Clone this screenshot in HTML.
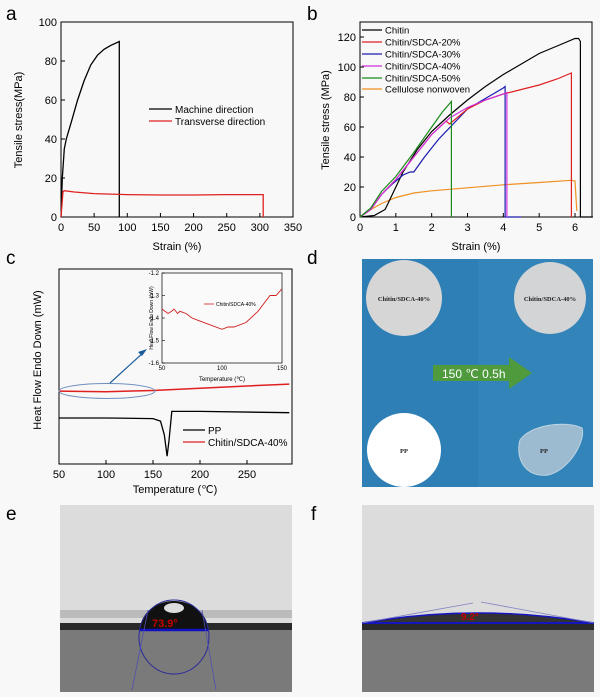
<!DOCTYPE html>
<html><head><meta charset="utf-8"><style>
body{margin:0;background:#fff;}
svg{display:block;font-family:"Liberation Sans",sans-serif;}
</style></head><body>
<svg id="fig" width="600" height="697" viewBox="0 0 600 697" xmlns="http://www.w3.org/2000/svg">
<rect width="600" height="697" fill="#f8f8f8"/>
<g id="pa"></g>
<g id="pb"></g>
<g id="pc"></g>
<g id="pd">
  <rect x="362" y="259" width="231" height="228" fill="#2e7fb5"/>
  <rect x="478" y="259" width="115" height="228" fill="#3587bd" opacity="0.6"/>
  <circle cx="404" cy="298" r="38" fill="#d6d6d6"/>
  <text x="404" y="301" font-size="6.5" font-weight="bold" font-family="Liberation Serif,serif" text-anchor="middle" fill="#222">Chitin/SDCA-40%</text>
  <circle cx="550" cy="298" r="36" fill="#d2d4d6"/>
  <text x="550" y="301" font-size="6.5" font-weight="bold" font-family="Liberation Serif,serif" text-anchor="middle" fill="#222">Chitin/SDCA-40%</text>
  <circle cx="404" cy="450" r="37" fill="#ffffff"/>
  <text x="404" y="453" font-size="6.5" font-weight="bold" font-family="Liberation Serif,serif" text-anchor="middle" fill="#222">PP</text>
  <path d="M520,440 C530,425 565,420 582,428 C586,440 570,470 548,475 C525,478 515,458 520,440Z" fill="#b8c9d6" opacity="0.8" stroke="#e0e8ee"/>
  <text x="544" y="453" font-size="6.5" font-weight="bold" font-family="Liberation Serif,serif" text-anchor="middle" fill="#222">PP</text>
  <path d="M433,365 L509,365 L509,357 L532,373 L509,389 L509,381 L433,381Z" fill="#4f9a3c"/>
  <text x="442" y="378" font-size="12" fill="#fff">150 ℃ 0.5h</text>
</g>
<g id="pe">
  <rect x="60" y="505" width="232" height="187" fill="#dcdcdc"/>
  <rect x="60" y="610" width="232" height="8" fill="#9a9a9a" opacity="0.5"/>
  <rect x="60" y="623" width="232" height="7" fill="#2a2a2a"/>
  <rect x="60" y="630" width="232" height="62" fill="#7a7a7a"/>
  <path d="M140,630 A34,29 0 0 1 208,630Z" fill="#111"/>
  <ellipse cx="174" cy="608" rx="10" ry="5" fill="#ddd"/>
  <ellipse cx="174" cy="637" rx="35" ry="37" fill="none" stroke="#2a2a9a" stroke-width="1"/>
  <line x1="140" y1="630" x2="208" y2="630" stroke="#1010c0" stroke-width="2.5"/>
  <line x1="132" y1="690" x2="148" y2="610" stroke="#5050b0" stroke-width="0.8"/>
  <line x1="216" y1="690" x2="202" y2="610" stroke="#5050b0" stroke-width="0.8"/>
  <text x="152" y="627" font-size="11" font-weight="bold" fill="#c00000">73.9°</text>
</g>
<g id="pf">
  <rect x="362" y="505" width="232" height="187" fill="#dcdcdc"/>
  <rect x="362" y="623" width="232" height="7" fill="#2a2a2a"/>
  <rect x="362" y="630" width="232" height="62" fill="#7a7a7a"/>
  <path d="M362,623 Q478,603 594,623Z" fill="#333" stroke="#1515c0" stroke-width="1.5"/>
  <line x1="362" y1="623" x2="594" y2="623" stroke="#1515c0" stroke-width="2"/>
  <line x1="362" y1="623" x2="473" y2="603" stroke="#8080c0" stroke-width="0.8"/>
  <line x1="481" y1="602" x2="594" y2="623" stroke="#8080c0" stroke-width="0.8"/>
  <text x="461" y="620" font-size="10" font-weight="bold" fill="#c00000">9.2°</text>
</g>
<text x="6" y="20" font-size="19">a</text>
<text x="307" y="20" font-size="19">b</text>
<text x="6" y="264" font-size="19">c</text>
<text x="307" y="264" font-size="19">d</text>
<text x="6" y="520" font-size="19">e</text>
<text x="311" y="520" font-size="19">f</text>
</svg>
<script>
// ---- Panel a data ----
const aMachineX=[0,2,5,8,15,25,35,45,55,65,75,88,88];
const aMachineY=[0,20,35,40,48,60,70,78,83,86,88,90,0];
const aTransX=[0,3,5,20,50,100,150,200,250,305,305];
const aTransY=[0,13,13.5,12.8,12,11.5,11.3,11.3,11.5,11.5,0];
const aXTicks=[0,50,100,150,200,250,300,350];
const aYTicks=[0,20,40,60,80,100];
// ---- Panel b data ----
const bSeriesNames=["Chitin","Chitin/SDCA-20%","Chitin/SDCA-30%","Chitin/SDCA-40%","Chitin/SDCA-50%","Cellulose nonwoven"];
const bChitinX=[0,0.4,0.7,0.9,1.2,1.6,2,2.5,3,3.5,4,4.5,5,5.5,6,6.1,6.15,6.15,6.5];
const bChitinY=[0,1,5,15,30,45,57,68,78,87,95,102,109,114,119,119,117,0,0];
const b20X=[0,0.3,0.6,1,1.5,2,2.4,2.5,3,3.5,4,4.5,5,5.5,5.9,5.9];
const b20Y=[0,5,15,25,40,55,64,62,72,78,82,85,88,92,96,0];
const b30X=[0,0.3,0.6,0.9,1.2,1.4,1.5,1.8,2.2,2.6,3,3.5,4,4.05,4.05,4.5];
const b30Y=[0,5,15,22,28,30,30,40,52,62,72,79,86,87,0,0];
const b40X=[0,0.3,0.6,1,1.5,2,2.5,3,3.5,4,4.1,4.1];
const b40Y=[0,5,15,25,40,55,66,73,78,82,83,0];
const b50X=[0,0.3,0.6,1,1.5,2,2.3,2.55,2.55];
const b50Y=[0,6,17,27,43,60,70,77,0];
const bCelX=[0,0.3,0.6,1,1.5,2,3,4,5,5.9,6,6.05];
const bCelY=[0,5,9,13,16,17.5,19.5,21.5,23,24.5,24,4];
const bXTicks=[0,1,2,3,4,5,6];
const bYTicks=[0,20,40,60,80,100,120];
// ---- Panel c data (heat flow in arbitrary units) ----
const cXTicks=[50,100,150,200,250];
const cPPX=[50,100,150,158,162,165,167,170,200,295];
const cPPY=[23.6,23.6,23.3,22,15,4,12,27,27,26.3];
const cChX=[50,100,150,200,250,295];
const cChY=[37.4,37.1,37.7,38.8,40,41];
const insetX=[50,55,58,60,63,65,70,75,80,90,100,105,110,120,130,140,145,150];
const insetY=[-1.36,-1.38,-1.37,-1.36,-1.38,-1.37,-1.38,-1.40,-1.41,-1.43,-1.45,-1.44,-1.44,-1.42,-1.37,-1.30,-1.30,-1.27];
const insetXTicks=[50,100,150];
const insetYTicks=[-1.6,-1.5,-1.4,-1.3,-1.2];

const NS="http://www.w3.org/2000/svg";
function mk(parent,tag,attrs,txt){const e=document.createElementNS(NS,tag);for(const k in attrs)e.setAttribute(k,attrs[k]);if(txt!==undefined)e.textContent=txt;parent.appendChild(e);return e;}
function lin(d0,d1,r0,r1){return v=>r0+(v-d0)/(d1-d0)*(r1-r0);}
function pathD(xs,ys,sx,sy){return xs.map((x,i)=>(i?"L":"M")+sx(x).toFixed(1)+","+sy(ys[i]).toFixed(1)).join("");}

// ---------- Panel a ----------
(function(){
 const g=document.getElementById('pa');
 const sx=lin(0,350,61,293), sy=lin(0,100,217,22);
 const fr=mk(g,'rect',{x:61,y:22,width:232,height:195,fill:'none',stroke:'#000','stroke-width':1});
 
 
 aXTicks.forEach(t=>{const x=sx(t);mk(g,'line',{x1:x,x2:x,y1:217,y2:213,stroke:'#000'});
  const l=mk(g,'text',{x:x,y:231,'font-size':11,'text-anchor':'middle'},t);
  
  });
 aYTicks.forEach(t=>{const y=sy(t);mk(g,'line',{x1:61,x2:65,y1:y,y2:y,stroke:'#000'});
  const l=mk(g,'text',{x:57,y:y+4,'font-size':11,'text-anchor':'end'},t);
  
  });
 const m=mk(g,'path',{d:pathD(aMachineX,aMachineY,sx,sy),fill:'none',stroke:'#000','stroke-width':1.3});
 
 
 const t=mk(g,'path',{d:pathD(aTransX,aTransY,sx,sy),fill:'none',stroke:'#e02020','stroke-width':1.3});
 
 
 mk(g,'line',{x1:149,x2:172,y1:109,y2:109,stroke:'#000','stroke-width':1.3});
 const l1=mk(g,'text',{x:175,y:113,'font-size':10},'Machine direction');
 
 
 mk(g,'line',{x1:149,x2:172,y1:121,y2:121,stroke:'#e02020','stroke-width':1.3});
 const l2=mk(g,'text',{x:175,y:125,'font-size':10},'Transverse direction');
 
 
 const xt=mk(g,'text',{x:177,y:250,'font-size':11,'text-anchor':'middle'},'Strain (%)');
 
 
 const yt=mk(g,'text',{x:0,y:0,'font-size':11,'text-anchor':'middle',transform:'translate(22,120) rotate(-90)'},'Tensile stress(MPa)');
 
 
})();

// ---------- Panel b ----------
(function(){
 const g=document.getElementById('pb');
 const sx=lin(0,6,360,575), sy=lin(0,120,217,37);
 const fr=mk(g,'rect',{x:360,y:22,width:232,height:195,fill:'none',stroke:'#000','stroke-width':1});
 
 
 bXTicks.forEach(t=>{const x=sx(t);mk(g,'line',{x1:x,x2:x,y1:217,y2:213,stroke:'#000'});
  const l=mk(g,'text',{x:x,y:231,'font-size':11,'text-anchor':'middle'},t);
  
  });
 bYTicks.forEach(t=>{const y=sy(t);mk(g,'line',{x1:360,x2:364,y1:y,y2:y,stroke:'#000'});
  const l=mk(g,'text',{x:356,y:y+4,'font-size':11,'text-anchor':'end'},t);
  
  });
 const colors=['#000','#e02020','#1a1ab0','#d030e0','#1a8a1a','#f09020'];
 const series=[[bChitinX,bChitinY],[b20X,b20Y],[b30X,b30Y],[b40X,b40Y],[b50X,b50Y],[bCelX,bCelY]];
 const order=[5,0,2,1,3,4];
 order.forEach(i=>{const p=mk(g,'path',{d:pathD(series[i][0],series[i][1],sx,sy),fill:'none',stroke:colors[i],'stroke-width':1.2});
  
  });
 const ly=[30,42,54,66,78,89];
 bSeriesNames.forEach((n,i)=>{mk(g,'line',{x1:362,x2:382,y1:ly[i],y2:ly[i],stroke:colors[i],'stroke-width':1.3});
  const l=mk(g,'text',{x:385,y:ly[i]+3.5,'font-size':9.5},n);
  
  });
 const xt=mk(g,'text',{x:476,y:250,'font-size':11,'text-anchor':'middle'},'Strain (%)');
 
 
 const yt=mk(g,'text',{x:0,y:0,'font-size':11,'text-anchor':'middle',transform:'translate(329,120) rotate(-90)'},'Tensile stress (MPa)');
 
 
})();

// ---------- Panel c ----------
(function(){
 const g=document.getElementById('pc');
 const sx=lin(50,250,59,247), sy=lin(0,100,464,269);
 const fr=mk(g,'rect',{x:59,y:269,width:233,height:195,fill:'none',stroke:'#000','stroke-width':1});
 
 
 cXTicks.forEach(t=>{const x=sx(t);mk(g,'line',{x1:x,x2:x,y1:464,y2:460,stroke:'#000'});
  const l=mk(g,'text',{x:x,y:478,'font-size':11,'text-anchor':'middle'},t);
  
  });
 const pp=mk(g,'path',{d:pathD(cPPX,cPPY,sx,sy),fill:'none',stroke:'#000','stroke-width':1.3});
 
 
 const ch=mk(g,'path',{d:pathD(cChX,cChY,sx,sy),fill:'none',stroke:'#e02020','stroke-width':1.5});
 
 
 const el=mk(g,'ellipse',{cx:107,cy:391,rx:48,ry:7.5,fill:'none',stroke:'#7090c0','stroke-width':1});
 
 
 const ar=mk(g,'line',{x1:110,y1:383,x2:144,y2:352,stroke:'#1a5a9a','stroke-width':1.2});
 
 
 mk(g,'path',{d:'M147,349 L138,352 L142,356Z',fill:'#1a5a9a'});
 mk(g,'line',{x1:183,x2:205,y1:430,y2:430,stroke:'#000','stroke-width':1.3});
 const l1=mk(g,'text',{x:208,y:434,'font-size':10},'PP');
 
 
 mk(g,'line',{x1:183,x2:205,y1:442,y2:442,stroke:'#e02020','stroke-width':1.3});
 const l2=mk(g,'text',{x:208,y:446,'font-size':10},'Chitin/SDCA-40%');
 
 
 const xt=mk(g,'text',{x:175,y:493,'font-size':11,'text-anchor':'middle'},'Temperature (℃)');
 
 
 const yt=mk(g,'text',{x:0,y:0,'font-size':11,'text-anchor':'middle',transform:'translate(41,360) rotate(-90)'},'Heat Flow Endo Down (mW)');
 
 
 // inset
 const ix=lin(50,150,162,282), iy=lin(-1.6,-1.2,363,273);
 const ifr=mk(g,'rect',{x:162,y:273,width:120,height:90,fill:'#fafafa',stroke:'#000','stroke-width':0.7});
 
 
 insetXTicks.forEach(t=>{const l=mk(g,'text',{x:ix(t),y:370,'font-size':6,'text-anchor':'middle'},t);
  
  });
 insetYTicks.forEach(t=>{mk(g,'line',{x1:162,x2:165,y1:iy(t),y2:iy(t),stroke:'#000','stroke-width':0.6});
  const l=mk(g,'text',{x:159,y:iy(t)+2,'font-size':6,'text-anchor':'end'},t.toFixed(1));
  
  });
 const ip=mk(g,'path',{d:pathD(insetX,insetY,ix,iy),fill:'none',stroke:'#d02020','stroke-width':0.9});
 
 
 mk(g,'line',{x1:204,x2:214,y1:304,y2:304,stroke:'#d02020','stroke-width':0.8});
 const il=mk(g,'text',{x:216,y:306,'font-size':5},'Chitin/SDCA-40%');
 
 
 const ixt=mk(g,'text',{x:222,y:381,'font-size':6,'text-anchor':'middle'},'Temperature (℃)');
 
 
 const iyt=mk(g,'text',{x:0,y:0,'font-size':5,'text-anchor':'middle',transform:'translate(153,318) rotate(-90)'},'Heat Flow Endo Down (mW)');
 
 
})();
</script>
</body></html>
